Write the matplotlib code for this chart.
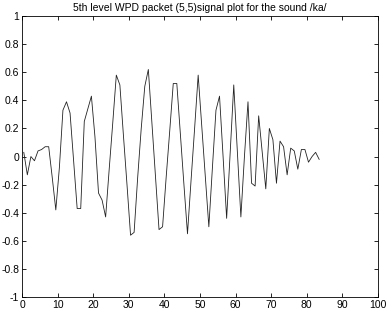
import numpy as np
import matplotlib
matplotlib.use("Agg")
import matplotlib.pyplot as plt

# sample positions (half-step offset)
sample_x = np.arange(84) + 0.5
signal = [0.03, -0.13, 0.00, -0.03, 0.04, 0.05, 0.07, 0.07, -0.15, -0.38,
          -0.08, 0.33, 0.39, 0.31, -0.03, -0.37, -0.37, 0.25, 0.34, 0.43,
          0.14, -0.26, -0.31, -0.43, -0.09, 0.24, 0.58, 0.51, 0.15, -0.20,
          -0.56, -0.54, -0.15, 0.20, 0.50, 0.62, 0.24, -0.14, -0.52, -0.50,
          -0.15, 0.18, 0.52, 0.52, 0.16, -0.20, -0.55, -0.17, 0.20, 0.58,
          0.22, -0.14, -0.50, -0.08, 0.33, 0.43, 0.00, -0.44, 0.03, 0.51,
          0.04, -0.43, 0.00, 0.39, -0.19, -0.21, 0.29, 0.03, -0.23, 0.20,
          0.12, -0.19, 0.11, 0.07, -0.13, 0.06, 0.04, -0.09, 0.05, 0.05,
          -0.04, 0.00, 0.03, -0.02]

xticks = list(range(0, 101, 10))
yticks = [-1, -0.8, -0.6, -0.4, -0.2, 0, 0.2, 0.4, 0.6, 0.8, 1]
ylabels = ['-1', '-0.8', '-0.6', '-0.4', '-0.2', '0', '0.2', '0.4', '0.6', '0.8', '1']

plt.rcParams['font.family'] = ['Liberation Sans', 'DejaVu Sans']

fig = plt.figure(figsize=(3.86, 3.10), dpi=100)
ax = fig.add_axes([0.057, 0.042, 0.922, 0.906])
ax.plot(sample_x, signal, color='#222222', linewidth=0.6)
ax.set_xlim(0, 100)
ax.set_ylim(-1, 1)
ax.set_xticks(xticks)
ax.set_yticks(yticks)
ax.set_yticklabels(ylabels)
ax.tick_params(direction='in', top=True, right=True, length=3, width=0.6,
               labelsize=7.5, pad=2)
for s in ax.spines.values():
    s.set_linewidth(0.6)
ax.set_title("5th level WPD packet (5,5)signal plot for the sound /ka/",
             fontsize=7.5, pad=4)

fig.savefig("out.png", dpi=100)
